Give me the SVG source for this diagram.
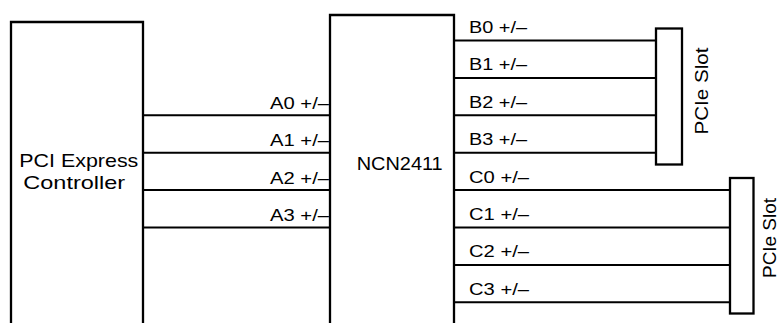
<svg xmlns="http://www.w3.org/2000/svg" width="779" height="323" viewBox="0 0 779 323">
<style>
.box{fill:#fff;stroke:#000;stroke-width:2.3}
.ln{stroke:#000;stroke-width:2;fill:none}
text{font-family:"Liberation Sans",Arial,sans-serif;fill:#000}
.big{font-size:18.5px}
.lab{font-size:17px}
.slot{font-size:19px}
</style>
<rect width="779" height="323" fill="#fff"/>
<g id="connectors">
<path class="ln" d="M143 115.3H330M143 152.7H330M143 190.1H330M143 227.5H330"/>
<path class="ln" d="M454 40.5H656M454 77.9H656M454 115.3H656M454 152.7H656"/>
<path class="ln" d="M454 190.1H730M454 227.5H730M454 264.9H730M454 302.3H730"/>
<text class="lab" x="329" y="108.8" text-anchor="end" textLength="59" lengthAdjust="spacingAndGlyphs">A0 +/–</text>
<text class="lab" x="329" y="146.2" text-anchor="end" textLength="59" lengthAdjust="spacingAndGlyphs">A1 +/–</text>
<text class="lab" x="329" y="183.6" text-anchor="end" textLength="59" lengthAdjust="spacingAndGlyphs">A2 +/–</text>
<text class="lab" x="329" y="221" text-anchor="end" textLength="59" lengthAdjust="spacingAndGlyphs">A3 +/–</text>
<text class="lab" x="469" y="33" textLength="58" lengthAdjust="spacingAndGlyphs">B0 +/–</text>
<text class="lab" x="469" y="70.4" textLength="58" lengthAdjust="spacingAndGlyphs">B1 +/–</text>
<text class="lab" x="469" y="107.8" textLength="58" lengthAdjust="spacingAndGlyphs">B2 +/–</text>
<text class="lab" x="469" y="145.2" textLength="58" lengthAdjust="spacingAndGlyphs">B3 +/–</text>
<text class="lab" x="469" y="182.6" textLength="60" lengthAdjust="spacingAndGlyphs">C0 +/–</text>
<text class="lab" x="469" y="220" textLength="60" lengthAdjust="spacingAndGlyphs">C1 +/–</text>
<text class="lab" x="469" y="257.4" textLength="60" lengthAdjust="spacingAndGlyphs">C2 +/–</text>
<text class="lab" x="469" y="294.8" textLength="60" lengthAdjust="spacingAndGlyphs">C3 +/–</text>
</g>
<g id="controller">
<path class="box" d="M11 330V22H143V330"/>
<text class="big" x="78.8" y="167" text-anchor="middle" textLength="119" lengthAdjust="spacingAndGlyphs">PCI Express</text>
<text class="big" x="74.2" y="189.3" text-anchor="middle" textLength="101.7" lengthAdjust="spacingAndGlyphs">Controller</text>
</g>
<g id="ncn2411">
<path class="box" d="M330 330V15H454V330"/>
<text class="big" x="399.7" y="170" text-anchor="middle" textLength="86" lengthAdjust="spacingAndGlyphs">NCN2411</text>
</g>
<g id="slotB">
<rect class="box" x="656" y="28.5" width="26" height="136"/>
<text class="slot" transform="translate(708,91) rotate(-90)" text-anchor="middle" textLength="87" lengthAdjust="spacingAndGlyphs">PCIe Slot</text>
</g>
<g id="slotC">
<rect class="box" x="730" y="178" width="23.5" height="135.5"/>
<text class="slot" transform="translate(776,238) rotate(-90)" text-anchor="middle" textLength="80" lengthAdjust="spacingAndGlyphs">PCIe Slot</text>
</g>
</svg>
